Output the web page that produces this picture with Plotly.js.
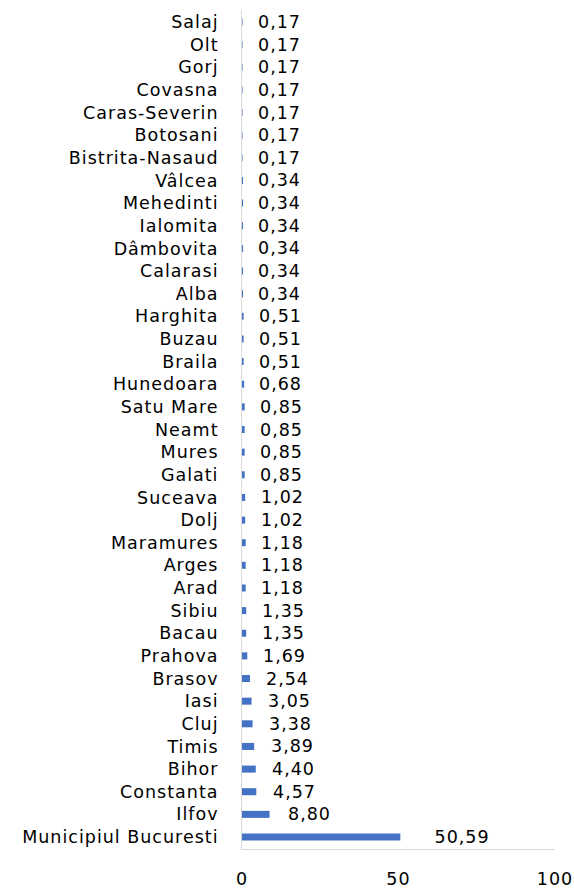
<!DOCTYPE html>
<html>
<head>
<meta charset="utf-8">
<script src="https://cdn.plot.ly/plotly-3.0.1.min.js"></script>
<style>
  html, body { margin: 0; padding: 0; background: #fff; }
  #chart { width: 574px; height: 889px; }
  /* slightly open tracking for all chart text */
  #chart svg text { letter-spacing: 1px; }
</style>
</head>
<body>
<div id="chart"></div>
<script>
// Share per county (%), listed bottom to top
const counties = [
  "Municipiul Bucuresti", "Ilfov", "Constanta", "Bihor", "Timis", "Cluj", "Iasi",
  "Brasov", "Prahova", "Bacau", "Sibiu", "Arad", "Arges", "Maramures", "Dolj",
  "Suceava", "Galati", "Mures", "Neamt", "Satu Mare", "Hunedoara", "Braila",
  "Buzau", "Harghita", "Alba", "Calarasi", "Dâmbovita", "Ialomita", "Mehedinti",
  "Vâlcea", "Bistrita-Nasaud", "Botosani", "Caras-Severin", "Covasna", "Gorj",
  "Olt", "Salaj"
];
const shares = [
  50.59, 8.80, 4.57, 4.40, 3.89, 3.38, 3.05,
  2.54, 1.69, 1.35, 1.35, 1.18, 1.18, 1.18, 1.02,
  1.02, 0.85, 0.85, 0.85, 0.85, 0.68, 0.51,
  0.51, 0.51, 0.34, 0.34, 0.34, 0.34, 0.34,
  0.34, 0.17, 0.17, 0.17, 0.17, 0.17,
  0.17, 0.17
];
const xTicks = [0, 50, 100];

const FONT = "DejaVu Sans, sans-serif";
const FSIZE = 17.5;

const trace = {
  type: "bar",
  orientation: "h",
  x: shares,
  y: counties,
  marker: { color: "#4472C4" },
  hoverinfo: "skip"
};

// value labels to the right of each bar, with comma decimals
const labels = counties.map((c, i) => ({
  xref: "x", yref: "y",
  x: shares[i], y: c,
  text: shares[i].toFixed(2).replace(".", ","),
  showarrow: false,
  xanchor: "left",
  yanchor: "middle",
  xshift: 15 + shares[i] * 0.38,
  font: { family: FONT, size: FSIZE, color: "#000" }
}));

const layout = {
  width: 574,
  height: 889,
  margin: { l: 242, r: 19, t: 10, b: 40 },
  paper_bgcolor: "#fff",
  plot_bgcolor: "#fff",
  showlegend: false,
  bargap: 0.69,
  font: { family: FONT, size: FSIZE, color: "#000" },
  xaxis: {
    range: [0, 100],
    tickvals: xTicks,
    ticktext: xTicks.map(String),
    showgrid: false,
    zeroline: false,
    showline: true,
    linecolor: "#d9d9d9",
    linewidth: 1,
    ticks: "outside",
    ticklen: 14,
    tickcolor: "rgba(0,0,0,0)",
    tickfont: { family: FONT, size: FSIZE, color: "#000" },
    fixedrange: true
  },
  yaxis: {
    type: "category",
    categoryorder: "array",
    categoryarray: counties,
    showgrid: false,
    zeroline: false,
    showline: true,
    linecolor: "#d9d9d9",
    linewidth: 1,
    ticks: "outside",
    ticklen: 19,
    tickcolor: "rgba(0,0,0,0)",
    tickfont: { family: FONT, size: FSIZE, color: "#000" },
    automargin: false,
    fixedrange: true
  },
  annotations: labels
};

Plotly.newPlot("chart", [trace], layout, { staticPlot: true, displayModeBar: false });
</script>
</body>
</html>
